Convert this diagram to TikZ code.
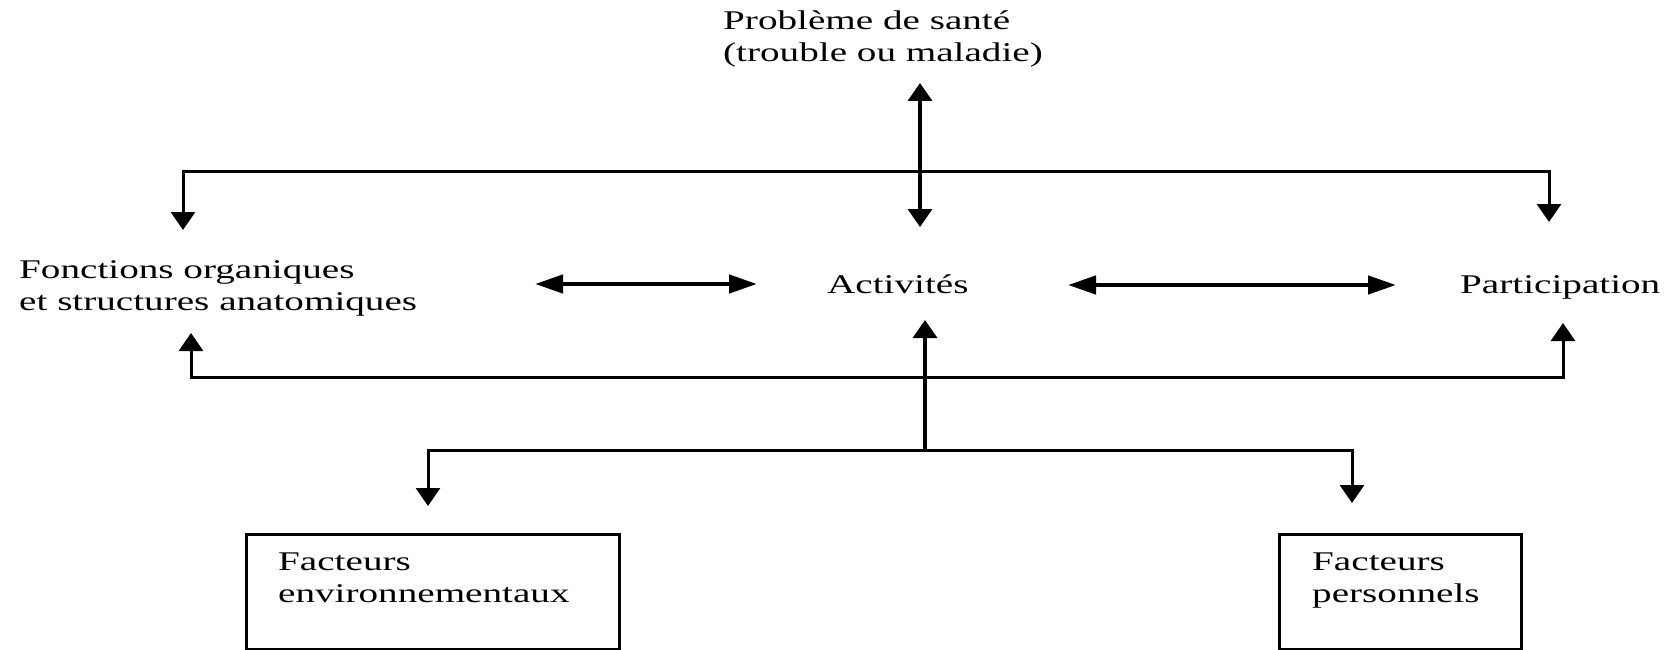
\documentclass[tikz,border=0pt]{standalone}
\usepackage{fontspec}
\setmainfont{Liberation Serif}[FakeStretch=1.45]
\usetikzlibrary{arrows.meta}
\tikzset{
  lbl/.style={inner sep=0pt, align=left, font=\fontsize{27}{32}\selectfont},
  bracket/.style={line width=3pt, line join=miter,
    {Triangle[width=24pt,length=18pt]}-{Triangle[width=24pt,length=18pt]}},
  uparrow/.style={line width=3.5pt, -{Triangle[width=24pt,length=18pt]}},
  vdbl/.style={line width=3.5pt,
    {Triangle[width=24pt,length=18pt]}-{Triangle[width=24pt,length=18pt]}},
  hdbl/.style={line width=4.5pt,
    {Triangle[width=18pt,length=28pt]}-{Triangle[width=18pt,length=28pt]}},
  fbox/.style={draw, line width=2.5pt, inner sep=0pt, anchor=north west}
}
\begin{document}
\begin{tikzpicture}[x=1pt,y=-1pt]
\useasboundingbox (0,0) rectangle (1667,650);
% text nodes
\node[lbl, anchor=west] (prob) at (723,39.6) {\strut Problème de santé\\\strut (trouble ou maladie)};
\node[lbl, anchor=west] (fonc) at (19,287.6) {\strut Fonctions organiques\\\strut et structures anatomiques};
\node[lbl, anchor=base west] (act) at (827,293) {Activités};
\node[lbl, anchor=base west] (part) at (1460,293) {Participation};
% boxes
\node[fbox, minimum width=373pt, minimum height=115pt] (envbox) at (245,533) {};
\node[fbox, minimum width=242pt, minimum height=115pt] (persbox) at (1278,533) {};
\node[lbl, anchor=west] (env) at (278,579.6) {\strut Facteurs\\\strut environnementaux};
\node[lbl, anchor=west] (pers) at (1312,579.6) {\strut Facteurs\\\strut personnels};
% connector coordinates
\coordinate (probtip) at (920,83);
\coordinate (acttip) at (920,227);
\coordinate (fonctip) at (183,230);
\coordinate (tl) at (183,171);
\coordinate (tr) at (1549,171);
\coordinate (parttip) at (1549,222);
\coordinate (fa) at (535,284);
\coordinate (af) at (757,284);
\coordinate (ap) at (1068,285);
\coordinate (pa) at (1396,285);
\coordinate (foncup) at (191,333);
\coordinate (bl) at (191,377);
\coordinate (br) at (1563,377);
\coordinate (partup) at (1563,323);
\coordinate (actup) at (925,320);
\coordinate (mid) at (925,450);
\coordinate (ll) at (428,450);
\coordinate (lr) at (1352,450);
\coordinate (envtip) at (428,506);
\coordinate (perstip) at (1352,503);
% connectors
\draw[vdbl] (probtip) -- (acttip);
\draw[bracket] (fonctip) -- (tl) -- (tr) -- (parttip);
\draw[hdbl] (fa) -- (af);
\draw[hdbl] (ap) -- (pa);
\draw[bracket] (foncup) -- (bl) -- (br) -- (partup);
\draw[uparrow] (mid) -- (actup);
\draw[bracket] (envtip) -- (ll) -- (lr) -- (perstip);
\end{tikzpicture}
\end{document}
